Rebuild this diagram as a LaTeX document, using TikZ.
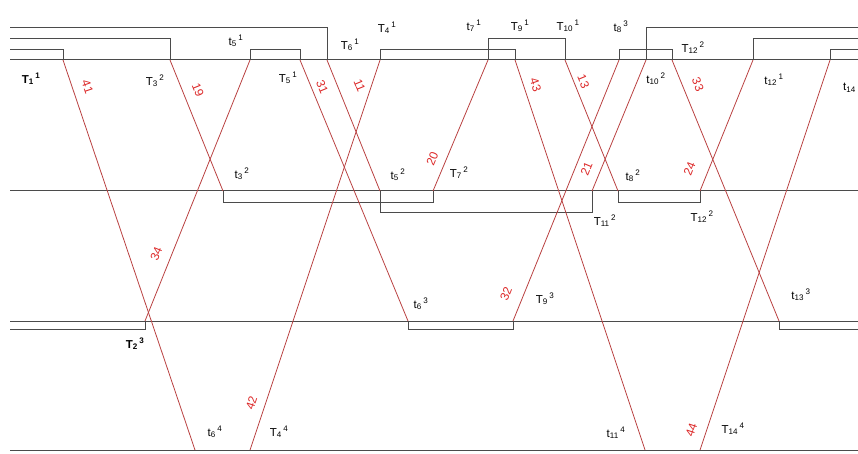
\documentclass[tikz,border=0pt]{standalone}
\usepackage{amsmath}
\usepackage{fontspec}
\setmainfont{Liberation Sans}
\usetikzlibrary{arrows,shapes}
\definecolor{trainred}{RGB}{185,65,65}
\definecolor{numred}{RGB}{220,40,40}
\definecolor{trackgray}{RGB}{75,75,75}
\tikzstyle{station}=[draw=trackgray,line width=1pt]
\tikzstyle{track}=[draw=trackgray,line width=0.8pt]
\tikzstyle{train}=[draw=trainred,line width=0.8pt]
\tikzstyle{tno}=[text=numred,font=\fontsize{12}{13}\selectfont,inner sep=0pt]
\tikzstyle{evt}=[font=\fontsize{11.5}{13}\selectfont,inner sep=0pt]
\newcommand{\ev}[3]{#1$_{\text{#2}}$\kern1.5pt$^{\text{#3}}$}

\begin{document}
\begin{tikzpicture}[x=1pt,y=-1pt]
\useasboundingbox (0,0) rectangle (858,454);
% stations
\coordinate (S1l) at (10,60);  \coordinate (S1r) at (858,60);
\coordinate (S2l) at (10,191); \coordinate (S2r) at (858,191);
\coordinate (S3l) at (10,321); \coordinate (S3r) at (858,321);
\coordinate (S4l) at (10,450); \coordinate (S4r) at (858,450);
% departures and arrivals
\coordinate (d41) at (63,60);   \coordinate (a41) at (195,450);
\coordinate (d19) at (170,60);  \coordinate (a19) at (223,191);
\coordinate (d34) at (145,321); \coordinate (a34) at (250,60);
\coordinate (d31) at (300,60);  \coordinate (a31) at (408,321);
\coordinate (d11) at (327,60);  \coordinate (a11) at (380,191);
\coordinate (d42) at (250,450); \coordinate (a42) at (380,60);
\coordinate (d20) at (433,191); \coordinate (a20) at (488,60);
\coordinate (d43) at (515,60);  \coordinate (a43) at (645,450);
\coordinate (d13) at (565,60);  \coordinate (a13) at (618,191);
\coordinate (d32) at (513,321); \coordinate (a32) at (619,60);
\coordinate (d21) at (592,191); \coordinate (a21) at (646,60);
\coordinate (d33) at (672,60);  \coordinate (a33) at (779,321);
\coordinate (d24) at (700,191); \coordinate (a24) at (753,60);
\coordinate (d44) at (700,450); \coordinate (a44) at (830,60);

\draw[station](S1l)--(S1r);
\draw[station](S2l)--(S2r);
\draw[station](S3l)--(S3r);
\draw[station](S4l)--(S4r);

% tracks, station 1
\draw[track](d41)|-(10,49);
\draw[track](d19)|-(10,38);
\draw[track](d11)|-(10,27);
\draw[track](a34)--++(0,-11)-|(d31);
\draw[track](a42)--++(0,-11)-|(d43);
\draw[track](a20)--++(0,-22)-|(d13);
\draw[track](a32)--++(0,-11)-|(d33);
\draw[track](a21)|-(858,27);
\draw[track](a24)|-(858,38);
\draw[track](a44)|-(858,49);
% tracks, station 2
\draw[track](a19)--++(0,11)-|(d20);
\draw[track](a11)--++(0,21)-|(d21);
\draw[track](a13)--++(0,11)-|(d24);
% tracks, station 3
\draw[track](d34)|-(10,329);
\draw[track](a31)--++(0,8)-|(d32);
\draw[track](a33)|-(858,329);

% trains
\draw[train](d41)--node[tno,sloped,pos=.081,above=10pt](n41){41}(a41);
\draw[train](d19)--node[tno,sloped,pos=.27,above=10pt](n19){19}(a19);
\draw[train](d31)--node[tno,sloped,pos=.118,above=5.5pt](n31){31}(a31);
\draw[train](d11)--node[tno,sloped,pos=.254,above=16pt](n11){11}(a11);
\draw[train](d43)--node[tno,sloped,pos=.073,above=7pt](n43){43}(a43);
\draw[train](d13)--node[tno,sloped,pos=.19,above=4.5pt](n13){13}(a13);
\draw[train](d33)--node[tno,sloped,pos=.115,above=10pt](n33){33}(a33);
\draw[train](d34)--node[tno,sloped,pos=.236,above=10pt](n34){34}(a34);
\draw[train](d20)--node[tno,sloped,pos=.209,above=8.5pt](n20){20}(a20);
\draw[train](d21)--node[tno,sloped,pos=.13,above=9pt](n21){21}(a21);
\draw[train](d24)--node[tno,sloped,pos=.118,above=13.5pt](n24){24}(a24);
\draw[train](d32)--node[tno,sloped,pos=.081,above=12pt](n32){32}(a32);
\draw[train](d42)--node[tno,sloped,pos=.11,above=9pt](n42){42}(a42);
\draw[train](d44)--node[tno,sloped,pos=.04,above=10pt](n44){44}(a44);

% event labels, station 1
\node[evt,font=\bfseries\fontsize{11.5}{13}\selectfont] (eT11) at (31,79) {\ev{T}{1}{1}};
\node[evt] (eT32) at (155,81) {\ev{T}{3}{2}};
\node[evt] (et51) at (236,41) {\ev{t}{5}{1}};
\node[evt] (eT51) at (288,78) {\ev{T}{5}{1}};
\node[evt] (eT61) at (350,45) {\ev{T}{6}{1}};
\node[evt] (eT41) at (387,28) {\ev{T}{4}{1}};
\node[evt] (et71) at (474,26) {\ev{t}{7}{1}};
\node[evt] (eT91) at (520,26) {\ev{T}{9}{1}};
\node[evt] (eT101) at (568,26) {\ev{T}{10}{1}};
\node[evt] (et83) at (621,27) {\ev{t}{8}{3}};
\node[evt] (eT122) at (693,48) {\ev{T}{12}{2}};
\node[evt] (et102) at (656,79) {\ev{t}{10}{2}};
\node[evt] (et121) at (774,80) {\ev{t}{12}{1}};
\node[evt,anchor=east] (et14) at (858,88) {\ev{t}{14}{}};
% station 2
\node[evt] (et32) at (242,174) {\ev{t}{3}{2}};
\node[evt] (et52) at (398,175) {\ev{t}{5}{2}};
\node[evt] (eT72) at (459,173) {\ev{T}{7}{2}};
\node[evt] (et82) at (633,176) {\ev{t}{8}{2}};
\node[evt] (eT112) at (605,221) {\ev{T}{11}{2}};
\node[evt] (eT122b) at (702,217) {\ev{T}{12}{2}};
% station 3
\node[evt] (et63) at (421,304) {\ev{t}{6}{3}};
\node[evt,font=\bfseries\fontsize{11.5}{13}\selectfont] (eT23) at (135,344) {\ev{T}{2}{3}};
\node[evt] (eT93) at (545,299) {\ev{T}{9}{3}};
\node[evt] (et133) at (801,295) {\ev{t}{13}{3}};
% station 4
\node[evt] (et64) at (215,432) {\ev{t}{6}{4}};
\node[evt] (eT44) at (279,432) {\ev{T}{4}{4}};
\node[evt] (et114) at (616,433) {\ev{t}{11}{4}};
\node[evt] (eT144) at (733,429) {\ev{T}{14}{4}};
\end{tikzpicture}
\end{document}
